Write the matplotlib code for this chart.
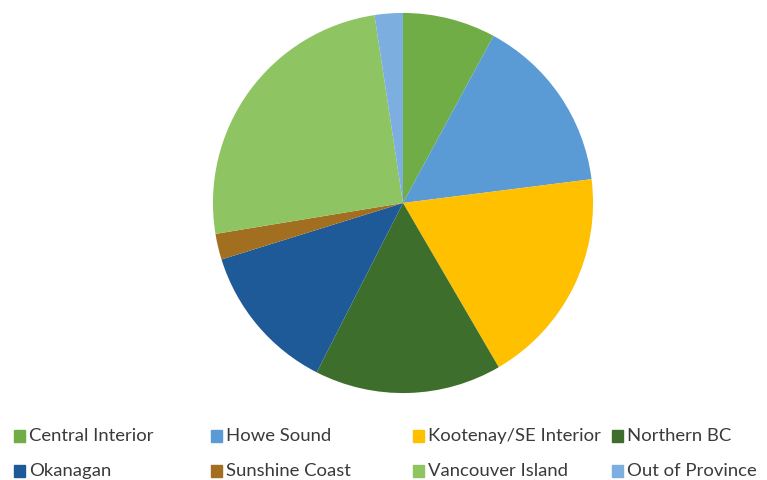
import matplotlib.pyplot as plt
from matplotlib.patches import Rectangle

# Données (en %)
regions = ["Central Interior", "Howe Sound", "Kootenay/SE Interior", "Northern BC",
           "Okanagan", "Sunshine Coast", "Vancouver Island", "Out of Province"]
parts = [7.9, 15.1, 18.6, 15.9, 12.7, 2.2, 25.2, 2.4]
couleurs = ["#70AD47", "#5B9BD5", "#FFC000", "#3E6E2C",
            "#1F5A98", "#A26E1F", "#8FC462", "#7DAEE0"]

fig = plt.figure(figsize=(7.67, 4.8), dpi=100)

# Camembert
ax = fig.add_axes([(403 - 191) / 767, (480 - 394) / 480, 382 / 767, 382 / 480])
ax.pie(parts, colors=couleurs, startangle=90, counterclock=False, radius=1,
       wedgeprops=dict(linewidth=0))
ax.set_xlim(-1.005, 1.005)
ax.set_ylim(-1.005, 1.005)
ax.set_aspect("equal")
ax.axis("off")

# Légende sur 2 lignes x 4 colonnes
col_x = [14, 211, 413, 612]
row_y = [436, 471]
for i, (nom, c) in enumerate(zip(regions, couleurs)):
    x = col_x[i % 4]
    y = row_y[i // 4]
    fig.patches.append(Rectangle((x / 767, 1 - (y + 6) / 480), 11 / 767, 12 / 480,
                                 transform=fig.transFigure, color=c))
    fig.text((x + 15) / 767, 1 - y / 480, nom, fontsize=13.3, family="Lato",
             color="#3a3a3a", va="center", ha="left")

fig.savefig("out.png", dpi=100)
